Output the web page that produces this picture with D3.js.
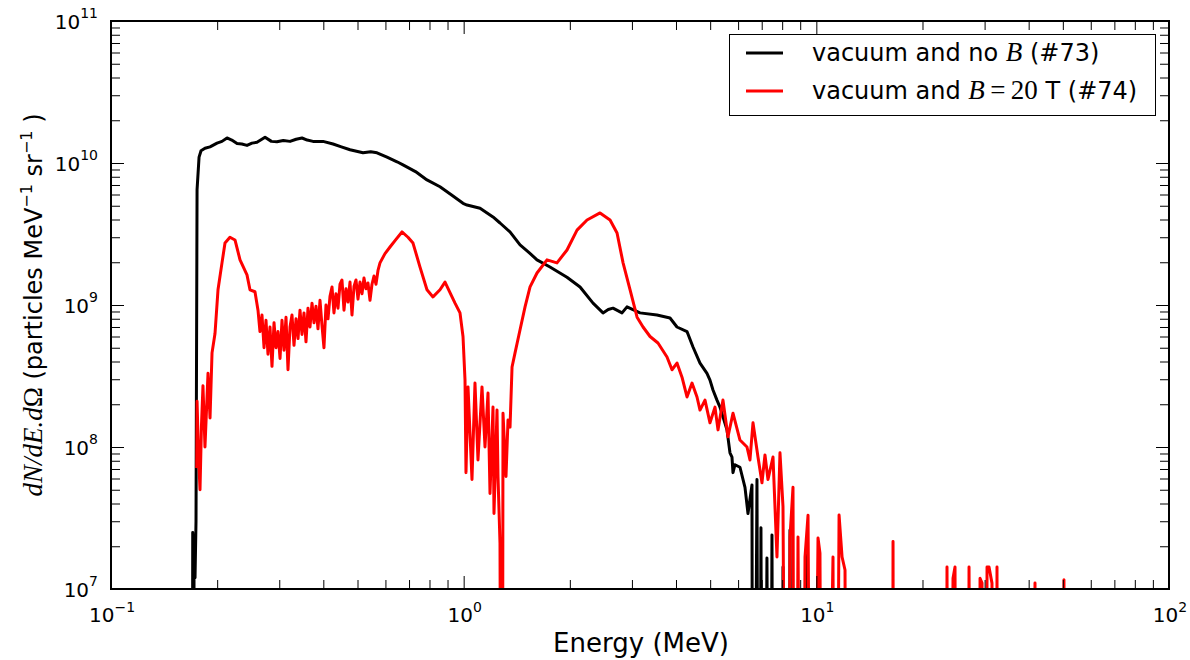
<!DOCTYPE html>
<html><head><meta charset="utf-8">
<script src="https://cdn.jsdelivr.net/npm/d3@7"></script>
<style>
body{margin:0;background:#fff}
svg{display:block}
text{font-family:"DejaVu Sans",sans-serif;fill:#000}
</style>
</head><body>
<svg id="c" width="1190" height="660"></svg>
<script>
// ---- data ----
const xDomain = [0.1, 100];
const yDomain = [1e7, 1e11];
const xTickExps = [-1, 0, 1, 2];
const yTickExps = [7, 8, 9, 10, 11];
const seriesNames = ["#73", "#74"];
const seriesColors = ["#000000", "#ff0000"];

// shot #73: vacuum and no B  (0 = empty bin)
const energy73 = [0.1550,0.1697,0.1705,0.1712,0.1720,0.1731,0.1742,0.1754,0.1777,0.1800,0.1847,0.1909,0.1998,0.2064,0.2133,0.2200,0.2277,0.2350,0.2430,0.2510,0.2594,0.2734,0.2850,0.2955,0.3080,0.3218,0.3350,0.3480,0.3600,0.3739,0.3992,0.4262,0.4500,0.4762,0.5183,0.5450,0.5679,0.6062,0.6471,0.6730,0.7300,0.7870,0.8568,0.9200,0.9957,1.022,1.113,1.211,1.268,1.353,1.445,1.530,1.614,1.757,1.963,2.138,2.327,2.484,2.570,2.651,2.812,2.905,3.162,3.533,3.847,4.026,4.298,4.470,4.679,4.897,4.994,5.093,5.227,5.330,5.580,5.690,5.765,5.803,5.879,6.074,6.276,6.400,6.569,6.613,6.787,6.876,6.966,7.058,7.244,7.387,7.485,7.582,7.950,8.044,8.200,8.350,8.420,8.587,9.250,9.348,9.472];
const counts73 = [0,0,2.5e7,0,2.4e7,1.2e7,3e7,6.5e9,1.1e10,1.22e10,1.27e10,1.3e10,1.38e10,1.42e10,1.5e10,1.45e10,1.37e10,1.36e10,1.33e10,1.38e10,1.4e10,1.52e10,1.42e10,1.41e10,1.44e10,1.42e10,1.47e10,1.5e10,1.45e10,1.42e10,1.42e10,1.36e10,1.3e10,1.24e10,1.18e10,1.2e10,1.18e10,1.1e10,1.02e10,9.7e9,8.7e9,7.6e9,6.8e9,6.0e9,5.2e9,5.06e9,4.8e9,4.17e9,3.78e9,3.27e9,2.65e9,2.35e9,2.08e9,1.85e9,1.57e9,1.34e9,1.03e9,8.8e8,9.3e8,9.5e8,8.8e8,9.7e8,8.8e8,8.5e8,8.1e8,7.0e8,6.5e8,5.06e8,3.9e8,3.3e8,2.96e8,2.52e8,2.14e8,1.91e8,1.32e8,9.1e7,8.5e7,6.6e7,7.5e7,7.2e7,5.2e7,3.4e7,5.4e7,0,5.9e7,0,2.7e7,0,1.65e7,0,2.4e7,0,0,1.43e7,0,0,2.6e7,0,0,1.8e7,0];

// shot #74: vacuum and B = 20 T
const energy74 = [0.1750,0.1754,0.1770,0.1788,0.1805,0.1823,0.1847,0.1884,0.1909,0.1934,0.1972,0.2011,0.2064,0.2105,0.2174,0.2247,0.2322,0.2430,0.2478,0.2560,
0.2611,0.2645,0.2680,0.2716,0.2751,0.2787,0.2824,0.2861,0.2899,0.2937,0.2975,0.3015,0.3054,0.3094,0.3135,0.3176,0.3218,0.3260,0.3303,0.3347,0.3391,0.3435,0.3480,0.3526,0.3572,0.3619,0.3667,0.3715,0.3764,0.3813,0.3863,0.3914,0.3965,0.4017,0.4070,0.4124,0.4178,0.4233,0.4288,0.4345,0.4402,0.4460,0.4518,0.4578,0.4638,0.4699,0.4761,0.4823,0.4887,0.4951,0.5016,0.5082,0.5149,0.5216,0.5285,0.5354,0.5425,0.5496,0.5568,0.5641,0.5716,0.5791,
0.5983,0.6182,0.6429,0.6685,0.6952,0.7183,0.7520,0.7870,0.8185,0.8568,0.8853,0.9146,0.9451,0.9763,0.9957,1.0088,1.0153,1.0287,1.0558,1.0767,1.0980,1.1271,1.1494,1.1722,1.1876,1.2111,1.2190,1.2432,1.2513,1.2677,1.2844,1.2928,1.3184,1.3358,1.3535,1.3714,1.3985,1.4450,1.4929,1.5425,1.6143,1.7231,1.8390,1.9634,2.0962,2.2377,2.4361,2.6006,2.7222,2.8314,2.9640,3.1024,3.2255,3.3765,3.5563,3.7721,3.8973,4.026,4.160,4.298,4.441,4.588,4.679,4.834,4.994,5.160,5.262,5.436,5.616,5.803,6.074,6.358,6.484,6.613,6.832,7.012,7.151,7.293,7.536,7.734,7.887,8.044,8.257,8.420,8.587,8.700,8.872,9.106,9.287,9.472,9.721,10.11,10.24,10.44,11.15,11.30,11.60,11.83,12.06,12.22,16.39,16.50,16.61,23.30,23.47,23.80,24.41,24.73,25.06,26.90,27.10,27.63,29.00,29.12,29.50,29.70,30.30,30.48,30.88,31.48,31.90,32.35,32.53,32.74,41.50,41.69,41.90,50.20,50.37,50.60];
const counts74 = [7.1e7,2.1e8,9e7,5.0e7,1.4e8,2.7e8,1.0e8,3.3e8,1.6e8,4.6e8,6.3e8,1.28e9,1.98e9,2.73e9,3.0e9,2.87e9,2.08e9,1.63e9,1.28e9,1.24e9,
9.2e8,6.5e8,8.5e8,5.0e8,7.8e8,4.5e8,7.0e8,3.7e8,7.5e8,5.0e8,6.5e8,4.2e8,7.8e8,4.8e8,8.2e8,3.5e8,7.0e8,8.5e8,5.2e8,8.0e8,5.8e8,9.2e8,6.2e8,8.8e8,5.5e8,9.5e8,7.0e8,1.03e9,7.5e8,9.8e8,6.8e8,1.08e9,7.2e8,5.0e8,1.0e9,8.0e8,1.15e9,1.34e9,8.8e8,1.2e9,9.5e8,1.4e9,1.5e9,9.2e8,1.3e9,1.05e9,1.45e9,8.5e8,1.35e9,1.5e9,1.1e9,1.45e9,1.2e9,1.55e9,1.3e9,1.43e9,1.08e9,1.4e9,1.6e9,1.4e9,1.75e9,1.98e9,
2.3e9,2.56e9,2.9e9,3.27e9,3.0e9,2.73e9,1.85e9,1.28e9,1.14e9,1.28e9,1.45e9,1.22e9,1.03e9,8.8e8,6.0e8,2.96e8,6.6e7,2.65e8,5.9e7,2.82e8,8.1e7,2.65e8,1.0e8,2.4e8,4.7e7,1.91e8,3.4e7,1.82e8,6.2e7,2.1e7,0,1.73e8,6.2e7,1.55e8,1.38e8,3.66e8,4.6e8,6.7e8,9.7e8,1.34e9,1.68e9,2.08e9,1.98e9,2.44e9,3.37e9,3.97e9,4.45e9,3.97e9,3.21e9,1.98e9,1.28e9,8.2e8,7.0e8,6.0e8,5.4e8,4.3e8,3.5e8,3.9e8,3.1e8,2.25e8,2.82e8,2.25e8,1.82e8,2.14e8,1.48e8,1.91e8,1.32e8,2.14e8,1.18e8,1.73e8,1.12e8,1.0e8,8.1e7,1.48e8,8.5e7,5.6e7,8.8e7,5.9e7,8.5e7,1.68e7,9.1e7,3.8e7,0,2.32e7,5.2e7,0,2.32e7,0,1.68e7,3.3e7,0,2.29e7,1.79e7,0,1.68e7,0,3.32e7,1.68e7,1.36e7,0,0,2.16e7,0,0,1.43e7,0,1.19e7,1.43e7,0,0,1.43e7,0,0,1.19e7,1.1e7,0,0,1.43e7,1.43e7,1.1e7,0,0,1.43e7,0,0,1.1e7,0,0,1.16e7,0];

// ---- drawing ----
const L = 111, R = 1169, T = 21, B = 589;
const svg = d3.select("#c");
const x = d3.scaleLog().domain(xDomain).range([L, R]);
const y = d3.scaleLog().domain(yDomain).range([B, T]);

svg.append("defs").append("clipPath").attr("id", "plotclip")
  .append("rect").attr("x", L).attr("y", T).attr("width", R - L).attr("height", B - T);

const FLOOR = 1e3; // empty bins drawn far below the axis (clipped)
const line = d3.line()
  .x(d => x(d[0]))
  .y(d => y(Math.max(d[1], FLOOR)));

const series = [
  d3.zip(energy73, counts73),
  d3.zip(energy74, counts74)
];
const plot = svg.append("g").attr("clip-path", "url(#plotclip)");
series.forEach((s, i) => {
  plot.append("path").datum(s).attr("d", line)
    .attr("fill", "none").attr("stroke", seriesColors[i])
    .attr("stroke-width", 3).attr("stroke-linejoin", "round");
});

// ticks
const majX = xTickExps.map(e => Math.pow(10, e));
const majY = yTickExps.map(e => Math.pow(10, e));
const minX = [], minY = [];
xTickExps.slice(0, -1).forEach(e => { for (let m = 2; m <= 9; m++) minX.push(m * Math.pow(10, e)); });
yTickExps.slice(0, -1).forEach(e => { for (let m = 2; m <= 9; m++) minY.push(m * Math.pow(10, e)); });

function drawAxis(gen, scale, vals, size, tx, ty) {
  const g = svg.append("g").attr("transform", `translate(${tx},${ty})`)
    .call(gen(scale).tickValues(vals).tickSizeInner(-size).tickSizeOuter(0).tickFormat(""));
  g.select(".domain").remove();
  g.selectAll("line").attr("stroke", "#000").attr("stroke-width", 1);
}
[[majX, 13], [minX, 9]].forEach(([v, s]) => {
  drawAxis(d3.axisBottom, x, v, s, 0, B);
  drawAxis(d3.axisTop, x, v, s, 0, T);
});
[[majY, 13], [minY, 9]].forEach(([v, s]) => {
  drawAxis(d3.axisLeft, y, v, s, L, 0);
  drawAxis(d3.axisRight, y, v, s, R, 0);
});

// frame
svg.append("rect").attr("x", L).attr("y", T).attr("width", R - L).attr("height", B - T)
  .attr("fill", "none").attr("stroke", "#000").attr("stroke-width", 2);

// tick labels
function powLabel(exp, px, py, anchor, dy) {
  const t = svg.append("text").attr("x", px).attr("y", py)
    .attr("text-anchor", anchor).style("font-size", "20px");
  t.append("tspan").text("10");
  t.append("tspan").attr("dy", dy).style("font-size", "14px")
    .text(exp < 0 ? "\u2212" + (-exp) : String(exp));
}
xTickExps.forEach(e => powLabel(e, x(Math.pow(10, e)) + 1, 622, "middle", -10));
yTickExps.forEach(e => powLabel(e, 98, y(Math.pow(10, e)) + 8, "end", -11));

// axis titles
svg.append("text").attr("x", (L + R) / 2 + 1).attr("y", 652).attr("text-anchor", "middle")
  .style("font-size", "26px").text("Energy (MeV)");

const yl = svg.append("text").attr("transform", `translate(42,${(T + B) / 2}) rotate(-90)`)
  .attr("text-anchor", "middle").style("font-size", "24px");
yl.append("tspan").style("font-family", "'Liberation Serif',serif").style("font-style", "italic")
  .style("font-size", "27px").text("dN/dE.d");
yl.append("tspan").style("font-family", "'Liberation Serif',serif").style("font-size", "27px").text("\u03A9");
yl.append("tspan").text(" (particles MeV");
yl.append("tspan").attr("dy", -10).style("font-size", "16px").text("\u22121");
yl.append("tspan").attr("dy", 10).text(" sr");
yl.append("tspan").attr("dy", -10).style("font-size", "16px").text("\u22121");
yl.append("tspan").attr("dy", 10).text(" )");

// legend
const lg = svg.append("g");
lg.append("rect").attr("x", 729.5).attr("y", 34.5).attr("width", 426).attr("height", 81)
  .attr("fill", "#fff").attr("stroke", "#000").attr("stroke-width", 1);
const legRows = [53, 91];
legRows.forEach((ly, i) => {
  lg.append("line").attr("x1", 746).attr("x2", 783).attr("y1", ly).attr("y2", ly)
    .attr("stroke", seriesColors[i]).attr("stroke-width", 3);
  const t = lg.append("text").attr("x", 812).attr("y", ly + 8).style("font-size", "24px");
  if (i === 0) {
    t.append("tspan").text("vacuum and no ");
    t.append("tspan").style("font-family", "'Liberation Serif',serif").style("font-style", "italic").style("font-size", "27px").text("B");
    t.append("tspan").text(" (" + seriesNames[0] + ")");
  } else {
    t.append("tspan").text("vacuum and ");
    t.append("tspan").style("font-family", "'Liberation Serif',serif").style("font-style", "italic").style("font-size", "27px").text("B");
    t.append("tspan").style("font-family", "'Liberation Serif',serif").style("font-size", "27px").text("\u2009=\u200920");
    t.append("tspan").text(" T (" + seriesNames[1] + ")");
  }
});
</script>
</body></html>
